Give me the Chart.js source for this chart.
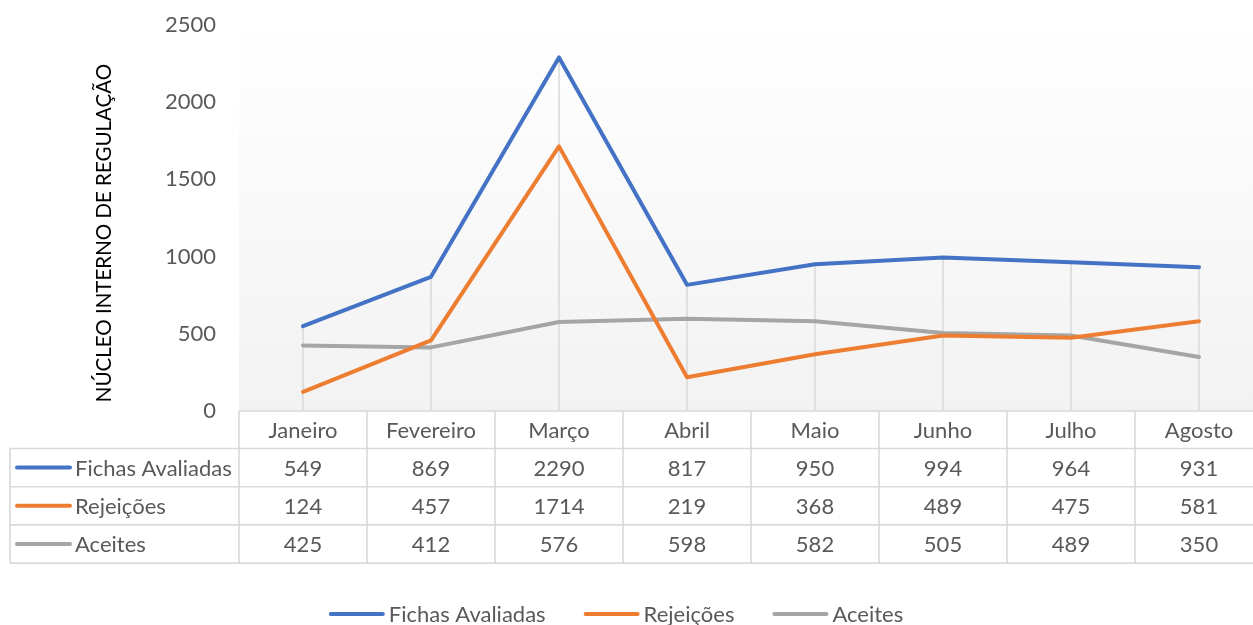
<!DOCTYPE html>
<html><head><meta charset="utf-8">
<script src="https://cdn.jsdelivr.net/npm/chart.js@4.4.1/dist/chart.umd.min.js"></script>
<style>html,body{margin:0;padding:0;overflow:hidden;background:#fff;width:1253px;height:625px}
#wrap{width:1263px;height:625px;position:relative}</style>
</head><body><div id="wrap"><canvas id="c" width="1263" height="625"></canvas></div>
<script>
const categories = ['Janeiro','Fevereiro','Março','Abril','Maio','Junho','Julho','Agosto'];
const seriesNames = ['Fichas Avaliadas','Rejeições','Aceites'];
const fichasAvaliadas = [549,869,2290,817,950,994,964,931];
const rejeicoes = [124,457,1714,219,368,489,475,581];
const aceites = [425,412,576,598,582,505,489,350];
const seriesColors = ['#4472C4','#ED7D31','#A5A5A5'];
const yTicks = [0,500,1000,1500,2000,2500];
const yTitle = 'NÚCLEO INTERNO DE REGULAÇÃO';
const FONT = 'Lato';
const FS = 22;
const TXT = '#595959';
const GRID = '#d9d9d9';

const decor = {
  id: 'decor',
  beforeDatasetsDraw(chart) {
    const {ctx, chartArea: a, scales: {x: xs, y: ys}} = chart;
    ctx.save();
    const g = ctx.createLinearGradient(0, a.top, 0, a.bottom);
    g.addColorStop(0, '#ffffff');
    g.addColorStop(1, '#f2f2f2');
    ctx.fillStyle = g;
    ctx.fillRect(a.left, a.top, chart.width - a.left, a.bottom - a.top);
    ctx.strokeStyle = GRID; ctx.lineWidth = 1.5;
    categories.forEach((c, i) => {
      const mx = Math.max(...chart.data.datasets.map(d => d.data[i]));
      const x = xs.getPixelForValue(i);
      ctx.beginPath();
      ctx.moveTo(x, ys.getPixelForValue(0));
      ctx.lineTo(x, ys.getPixelForValue(mx));
      ctx.stroke();
    });
    ctx.restore();
  },
  afterDraw(chart) {
    const {ctx, chartArea: a, scales: {x: xs}} = chart;
    const colW = xs.getPixelForValue(1) - xs.getPixelForValue(0);
    const tLeft = 10;
    const hTop = a.bottom;
    const hH = 37.5, rH = 38.2;
    const rowsTop = hTop + hH;
    const tBottom = rowsTop + rH * seriesNames.length;
    const right = a.left + colW * categories.length;
    ctx.save();
    ctx.strokeStyle = GRID; ctx.lineWidth = 1.6;
    const line = (x1, y1, x2, y2) => { ctx.beginPath(); ctx.moveTo(x1, y1); ctx.lineTo(x2, y2); ctx.stroke(); };
    line(a.left, hTop, right, hTop);
    for (let r = 0; r <= seriesNames.length; r++) line(tLeft, rowsTop + r * rH, right, rowsTop + r * rH);
    line(tLeft, rowsTop, tLeft, tBottom);
    for (let c = 0; c <= categories.length; c++) line(a.left + c * colW, hTop, a.left + c * colW, tBottom);
    ctx.font = FS + 'px ' + FONT;
    ctx.fillStyle = TXT; ctx.textAlign = 'center'; ctx.textBaseline = 'middle';
    categories.forEach((c, i) => ctx.fillText(c, xs.getPixelForValue(i), hTop + hH / 2 + 1));
    chart.data.datasets.forEach((d, r) => {
      const cy = rowsTop + r * rH + rH / 2 + 1;
      d.data.forEach((v, i) => ctx.fillText(String(v), xs.getPixelForValue(i), cy));
      ctx.strokeStyle = d.borderColor; ctx.lineWidth = 4; ctx.lineCap = 'round';
      line(17, cy - 1, 70, cy - 1);
      ctx.textAlign = 'left';
      ctx.fillText(d.label, 75, cy);
      ctx.textAlign = 'center';
    });
    // legend
    const ly = 614, keyW = 53, gap = 6, spacing = 39;
    const widths = chart.data.datasets.map(d => keyW + gap + ctx.measureText(d.label).width);
    const total = widths.reduce((s, w) => s + w, 0) + spacing * (widths.length - 1);
    let x = 616.5 - total / 2;
    ctx.textAlign = 'left';
    chart.data.datasets.forEach((d, i) => {
      ctx.strokeStyle = d.borderColor; ctx.lineWidth = 4; ctx.lineCap = 'round';
      line(x + 1, ly, x + keyW, ly);
      ctx.fillStyle = TXT;
      ctx.fillText(d.label, x + keyW + gap, ly + 1);
      x += widths[i] + spacing;
    });
    // y-axis title
    ctx.translate(104, 233);
    ctx.rotate(-Math.PI / 2);
    ctx.font = '20.5px ' + FONT;
    ctx.fillStyle = '#000';
    ctx.textAlign = 'center';
    ctx.fillText(yTitle, 0, 0);
    ctx.restore();
  }
};

new Chart(document.getElementById('c'), {
  type: 'line',
  data: {
    labels: categories,
    datasets: [fichasAvaliadas, rejeicoes, aceites].map((arr, i) => ({
      label: seriesNames[i], data: arr, borderColor: seriesColors[i], backgroundColor: seriesColors[i],
      borderWidth: 4, pointRadius: 0, tension: 0, borderCapStyle: 'round', borderJoinStyle: 'round', fill: false
    }))
  },
  options: {
    responsive: false, animation: false,
    layout: {padding: {left: 0, right: 0, top: 25, bottom: 214}},
    plugins: {legend: {display: false}, tooltip: {enabled: false}},
    scales: {
      x: {type: 'category', offset: true, display: false},
      y: {
        min: 0, max: 2500,
        afterBuildTicks: s => { s.ticks = yTicks.map(v => ({value: v})); },
        grid: {display: true, drawOnChartArea: false, drawTicks: true, tickLength: 23, color: 'rgba(0,0,0,0)'},
        border: {display: false},
        ticks: {color: TXT, font: {family: FONT, size: FS}, padding: 0, callback: v => String(v)},
        title: {display: false},
        afterFit: s => { s.width = 239; }
      }
    }
  },
  plugins: [decor]
});
</script></body></html>
